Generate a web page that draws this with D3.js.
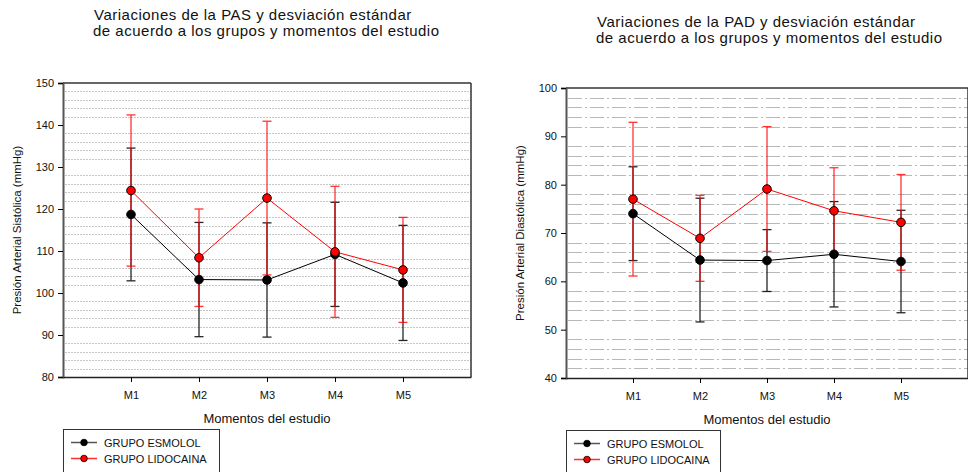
<!DOCTYPE html>
<html>
<head>
<meta charset="utf-8">
<script src="https://cdn.jsdelivr.net/npm/d3@7"></script>
<style>
  body { margin: 0; background: #fff; }
  svg { display: block; font-family: "Liberation Sans", Arial, sans-serif; }
</style>
</head>
<body>
<div class="charts"></div>
<script>
// data
var moments = ["M1", "M2", "M3", "M4", "M5"];
var groups = ["GRUPO ESMOLOL", "GRUPO LIDOCAINA"];

var pasEsmolol = [118.7, 103.2, 103.1, 109.2, 102.4];
var pasEsmololSd = [15.8, 13.6, 13.6, 12.4, 13.7];
var pasLidocaina = [124.4, 108.4, 122.6, 109.8, 105.5];
var pasLidocainaSd = [18.0, 11.6, 18.3, 15.6, 12.5];

var padEsmolol = [74.0, 64.4, 64.3, 65.6, 64.1];
var padEsmololSd = [9.7, 12.8, 6.4, 10.9, 10.6];
var padLidocaina = [77.0, 68.9, 79.1, 74.6, 72.2];
var padLidocainaSd = [15.9, 8.9, 12.9, 8.9, 9.9];

var pasTicks = [80, 90, 100, 110, 120, 130, 140, 150];
var padTicks = [40, 50, 60, 70, 80, 90, 100];

var colors = ["#000000", "#ff0000"];

var W = 968, H = 472;

var svg = d3.select(".charts")
  .append("svg")
  .attr("width", W)
  .attr("height", H);

function drawPanel(opt) {
  var g = svg.append("g");

  var x = d3.scaleLinear().domain([0, moments.length + 1]).range([opt.left, opt.right]);
  var y = d3.scaleLinear().domain(opt.domain).range([opt.bottom, opt.top]);

  // title, two separate lines
  opt.title.forEach((line, i) => {
    g.append("text")
      .attr("x", opt.titleX - i)
      .attr("y", opt.titleY + i * 16)
      .attr("font-size", 15)
      .attr("letter-spacing", 0.5)
      .attr("fill", "#111")
      .text(line);
  });

  // minor gridlines every 2 units, skipping the major ticks
  var minor = d3.range(opt.domain[0] + 2, opt.domain[1], 2).filter(v => v % 10 !== 0);
  g.selectAll(".grid")
    .data(minor)
    .enter()
    .append("line")
    .attr("x1", opt.left + 2)
    .attr("x2", opt.right)
    .attr("y1", d => Math.round(y(d)) + 0.5)
    .attr("y2", d => Math.round(y(d)) + 0.5)
    .attr("stroke", opt.gridColor)
    .attr("stroke-width", 1)
    .attr("stroke-dasharray", opt.dash);

  // frame
  g.append("line")
    .attr("x1", opt.left).attr("x2", opt.right)
    .attr("y1", opt.top).attr("y2", opt.top)
    .attr("stroke", "#333").attr("stroke-width", 1.5);
  g.append("line")
    .attr("x1", opt.right).attr("x2", opt.right)
    .attr("y1", opt.top).attr("y2", opt.bottom)
    .attr("stroke", "#333").attr("stroke-width", 1.5);

  // axes
  var yAxis = d3.axisLeft(y).tickValues(opt.ticks).tickSize(5).tickPadding(4);
  var ya = g.append("g")
    .attr("transform", "translate(" + opt.left + ",0)")
    .call(yAxis);
  ya.select(".domain").attr("stroke", "#555").attr("stroke-width", 2);
  ya.selectAll("text").attr("font-size", 11).attr("fill", "#111").attr("font-family", "Liberation Sans, Arial, sans-serif");

  var xAxis = d3.axisBottom(x).tickValues(d3.range(1, moments.length + 1))
    .tickFormat(d => moments[d - 1]).tickSize(5).tickPadding(9).tickSizeOuter(0);
  var xa = g.append("g")
    .attr("transform", "translate(0," + opt.bottom + ")")
    .call(xAxis);
  xa.select(".domain").attr("stroke", "#222").attr("stroke-width", 1.5);
  xa.selectAll("text").attr("font-size", 11).attr("fill", "#111").attr("font-family", "Liberation Sans, Arial, sans-serif");

  // axis titles
  g.append("text")
    .attr("transform", "translate(" + opt.yLabelX + "," + ((opt.top + opt.bottom) / 2) + ") rotate(-90)")
    .attr("text-anchor", "middle")
    .attr("font-size", 11.5)
    .attr("fill", "#111")
    .text(opt.yLabel);
  g.append("text")
    .attr("x", (opt.left + opt.right) / 2)
    .attr("y", opt.bottom + 46)
    .attr("text-anchor", "middle")
    .attr("font-size", 13)
    .attr("fill", "#111")
    .text("Momentos del estudio");

  // series: error bars, lines, markers
  opt.series.forEach((s, k) => {
    var sg = g.append("g");
    var eb = sg.selectAll(".err")
      .data(s.mean)
      .enter()
      .append("g")
      .attr("opacity", k === 1 ? 0.8 : 0.85)
      .attr("stroke", colors[k])
      .attr("stroke-width", 1.3);
    eb.append("line")
      .attr("x1", (d, i) => x(i + 1)).attr("x2", (d, i) => x(i + 1))
      .attr("y1", (d, i) => y(d + s.sd[i])).attr("y2", (d, i) => y(d - s.sd[i]));
    eb.append("line")
      .attr("x1", (d, i) => x(i + 1) - 4.5).attr("x2", (d, i) => x(i + 1) + 4.5)
      .attr("y1", (d, i) => y(d + s.sd[i])).attr("y2", (d, i) => y(d + s.sd[i]));
    eb.append("line")
      .attr("x1", (d, i) => x(i + 1) - 4.5).attr("x2", (d, i) => x(i + 1) + 4.5)
      .attr("y1", (d, i) => y(d - s.sd[i])).attr("y2", (d, i) => y(d - s.sd[i]));
  });

  opt.series.forEach((s, k) => {
    var line = d3.line().x((d, i) => x(i + 1)).y(d => y(d));
    g.append("path")
      .datum(s.mean)
      .attr("d", line)
      .attr("fill", "none")
      .attr("stroke", colors[k])
      .attr("stroke-width", 1);
    g.selectAll(".pt" + k)
      .data(s.mean)
      .enter()
      .append("circle")
      .attr("cx", (d, i) => x(i + 1))
      .attr("cy", d => y(d))
      .attr("r", 4.3)
      .attr("fill", colors[k])
      .attr("stroke", "#000")
      .attr("stroke-width", 1);
  });

  // legend
  var lg = g.append("g").attr("transform", "translate(" + opt.left + "," + opt.legendY + ")");
  lg.append("rect")
    .attr("x", 0.5).attr("y", 0.5)
    .attr("width", opt.legendW).attr("height", 60)
    .attr("fill", "#fff").attr("stroke", "#333").attr("stroke-width", 1);
  groups.forEach((name, k) => {
    var ry = 13.5 + k * 16;
    lg.append("line")
      .attr("x1", 8).attr("x2", 34)
      .attr("y1", ry).attr("y2", ry)
      .attr("stroke", k === 0 ? "#555" : "#ff3030").attr("stroke-width", 1.5);
    lg.append("circle")
      .attr("cx", 21).attr("cy", ry).attr("r", 3.3)
      .attr("fill", colors[k]).attr("stroke", "#000").attr("stroke-width", 0.8);
    lg.append("text")
      .attr("x", 41).attr("y", ry + 4)
      .attr("font-size", 11)
      .attr("fill", "#111")
      .text(name);
  });
}

drawPanel({
  left: 63, right: 471, top: 83, bottom: 377,
  domain: [80, 150], ticks: pasTicks,
  title: ["Variaciones de la PAS y desviación estándar", "de acuerdo a los grupos y momentos del estudio"],
  titleX: 94, titleY: 19.5,
  yLabel: "Presión Arterial Sistólica (mmHg)", yLabelX: 21,
  dash: "2,1", gridColor: "#c6c6c6",
  legendY: 429, legendW: 156,
  series: [
    { mean: pasEsmolol, sd: pasEsmololSd },
    { mean: pasLidocaina, sd: pasLidocainaSd }
  ]
});

drawPanel({
  left: 566, right: 968, top: 88, bottom: 378,
  domain: [40, 100], ticks: padTicks,
  title: ["Variaciones de la PAD y desviación estándar", "de acuerdo a los grupos y momentos del estudio"],
  titleX: 597, titleY: 26.5,
  yLabel: "Presión Arterial Diastólica (mmHg)", yLabelX: 524,
  dash: "14,3,2,3", gridColor: "#b8b8b8",
  legendY: 430, legendW: 154,
  series: [
    { mean: padEsmolol, sd: padEsmololSd },
    { mean: padLidocaina, sd: padLidocainaSd }
  ]
});
</script>
</body>
</html>
